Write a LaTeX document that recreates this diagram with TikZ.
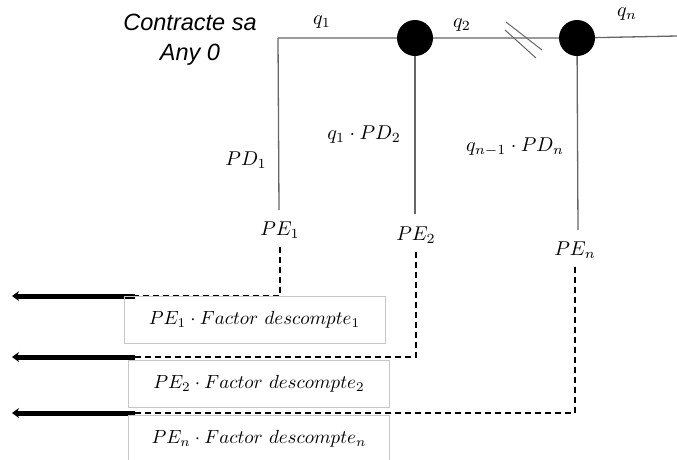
\documentclass[tikz,border=0pt]{standalone}
\usepackage{fontspec}
\newfontfamily\arialfont{Liberation Sans}
\usetikzlibrary{arrows.meta}
\tikzset{
  wire/.style={draw=black!60, line width=1.3pt},
  pelink/.style={dash pattern=on 6pt off 4pt, line width=1.4pt},
  payout/.style={line width=5pt, -{Stealth[length=7pt,width=10pt]}},
  dfbox/.style={draw=black!22, line width=0.8pt, scale=1.9, minimum width=137.4pt,
    minimum height=24.7pt, inner sep=0pt},
  lbl/.style={inner sep=0pt, scale=2},
  pe/.style={inner sep=4pt, scale=2},
}
\begin{document}
\begin{tikzpicture}[x=1pt,y=-1pt]
\useasboundingbox (0,0) rectangle (677,459);
% time axis
\coordinate (c1) at (278,38);
\coordinate (axend) at (677,36);
\node[circle, fill=black, minimum size=36pt, inner sep=0pt] (dot1) at (415,38) {};
\node[circle, fill=black, minimum size=36pt, inner sep=0pt] (dot2) at (577,38) {};
\draw[wire] (c1) -- (dot1) -- (dot2) -- (axend);
\draw[wire, line width=1pt] (506,22) -- (542,50);
\draw[wire, line width=1pt] (505,30) -- (536,58);
\node[font=\arialfont\itshape\fontsize{23.5}{30}\selectfont, align=center] (ctr) at (190,40) {Contracte sa\\Any 0};
\node[lbl] (q1) at (322,22) {$q_1$};
\node[lbl] (q2) at (462,25) {$q_2$};
\node[lbl] (qn) at (627,14) {$q_n$};
% payments
\node[pe] (pe1) at (280,230) {$PE_1$};
\node[pe] (pe2) at (416,235) {$PE_2$};
\node[pe] (pen) at (575,250) {$PE_n$};
\coordinate (b1) at (279,210);
\coordinate (b2) at (415,214);
\coordinate (bn) at (578,230);
\draw[wire] (c1) -- (b1);
\draw[wire] (dot1) -- (b2);
\draw[wire] (dot2) -- (bn);
\node[lbl] (pd1) at (246,160) {$PD_1$};
\node[lbl] (pd2) at (364,135) {$q_1\cdot PD_2$};
\node[lbl] (pdn) at (515,147) {$q_{n-1}\cdot PD_n$};
% discounting to year 0
\coordinate (a1) at (135,296);
\coordinate (a2) at (135,357);
\coordinate (an) at (135,413);
\coordinate (t1) at (12,296);
\coordinate (t2) at (12,357);
\coordinate (tn) at (12,413);
\draw[pelink] (pe1) |- (a1);
\draw[pelink] (pe2) |- (a2);
\draw[pelink] (pen) |- (an);
\draw[payout] (a1) -- (t1);
\draw[payout] (a2) -- (t2);
\draw[payout] (an) -- (tn);
\node[dfbox] (df1) at (254.5,319.5) {$PE_1\cdot Factor\ descompte_1$};
\node[dfbox] (df2) at (259,384) {$PE_2\cdot Factor\ descompte_2$};
\node[dfbox] (dfn) at (259,438.5) {$PE_n\cdot Factor\ descompte_n$};
\end{tikzpicture}
\end{document}
